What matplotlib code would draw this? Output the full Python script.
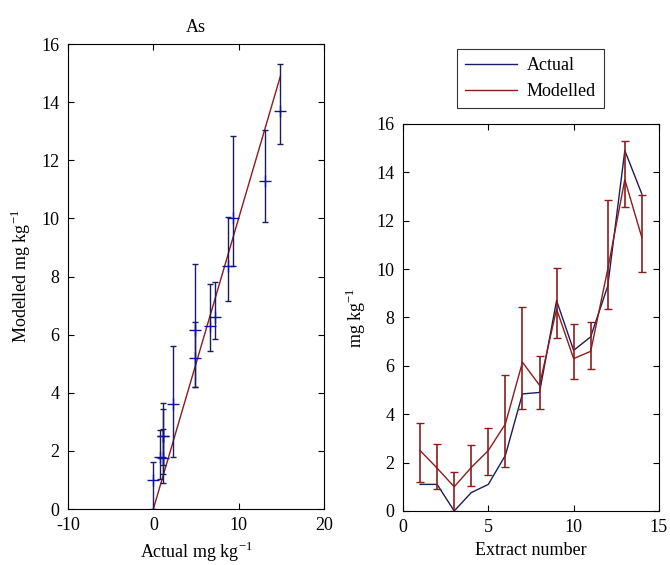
import numpy as np
import matplotlib
matplotlib.use('Agg')
import matplotlib.pyplot as plt

plt.rcParams['font.family'] = ['Liberation Serif', 'DejaVu Serif']
plt.rcParams['font.size'] = 13
plt.rcParams['axes.unicode_minus'] = False
plt.rcParams['mathtext.fontset'] = 'custom'
plt.rcParams['mathtext.rm'] = 'Liberation Serif'

# extract numbers 1..14
extract = [1, 2, 3, 4, 5, 6, 7, 8, 9, 10, 11, 12, 13, 14]
actual = [1.1, 1.1, 0.0, 0.76, 1.1, 2.3, 4.84, 4.9, 8.7, 6.64, 7.2, 9.3, 14.9, 13.1]
modelled = [2.5, 1.77, 1.0, 1.8, 2.5, 3.6, 6.15, 5.2, 8.35, 6.3, 6.6, 10.0, 13.7, 11.3]
err_low = [1.2, 0.9, 0.0, 1.05, 1.5, 1.8, 4.2, 4.2, 7.17, 5.45, 5.85, 8.37, 12.55, 9.87]
err_high = [3.65, 2.75, 1.62, 2.72, 3.45, 5.62, 8.42, 6.42, 10.05, 7.75, 7.82, 12.85, 15.3, 13.05]

navy = '#1c1c5a'
blue = '#1010a0'
dred = '#8b1c1c'

actual_a = np.array(actual)
mod_a = np.array(modelled)
yerr = [mod_a - np.array(err_low), np.array(err_high) - mod_a]

fig = plt.figure(figsize=(6.7, 5.65), dpi=100)

# left: modelled vs actual
ax1 = fig.add_axes([0.1015, 0.099, 0.382, 0.823])
srt = np.sort(actual_a)
ax1.plot(srt, srt, color=dred, lw=1)
ax1.errorbar(actual_a, mod_a, yerr=yerr, fmt='none', ecolor=navy, elinewidth=1, capsize=2)
ax1.plot(actual_a, mod_a, ls='none', marker='+', ms=9, mew=1, color=blue)
ax1.set_xlim(-10, 20)
ax1.set_ylim(0, 16)
ax1.set_xticks([-10, 0, 10, 20])
ax1.set_yticks(range(0, 17, 2))
ax1.set_title('As', fontsize=13, pad=9)
ax1.set_xlabel('Actual mg kg$^{-1}$', labelpad=4)
ax1.set_ylabel('Modelled mg kg$^{-1}$', labelpad=6)

# right: by extract number
ax2 = fig.add_axes([0.6015, 0.0956, 0.382, 0.685])
ax2.plot(extract, actual, color=navy, lw=1, label='Actual')
ax2.errorbar(extract, modelled, yerr=yerr, color=dred, lw=1, elinewidth=1.2, capsize=3, label='Modelled')
ax2.set_xlim(0, 15)
ax2.set_ylim(0, 16)
ax2.set_xticks([0, 5, 10, 15])
ax2.set_yticks(range(0, 17, 2))
ax2.set_xlabel('Extract number', labelpad=4)
ax2.set_ylabel('mg kg$^{-1}$', labelpad=6)

l = ['Actual', 'Modelled']
h = [plt.Line2D([], [], color=navy, lw=1), plt.Line2D([], [], color=dred, lw=1)]
leg = fig.legend(h, l, loc='upper left', bbox_to_anchor=(457/670, 1 - 49/565),
                 fancybox=False, edgecolor='black', handlelength=2.9, borderpad=0.45,
                 labelspacing=0.5, handletextpad=0.5, borderaxespad=0)
leg.get_frame().set_linewidth(0.8)

for ax in (ax1, ax2):
    ax.tick_params(direction='in', top=True, right=True, length=4, pad=6)
    for s in ax.spines.values():
        s.set_linewidth(0.8)

fig.savefig('out.png', dpi=100)
